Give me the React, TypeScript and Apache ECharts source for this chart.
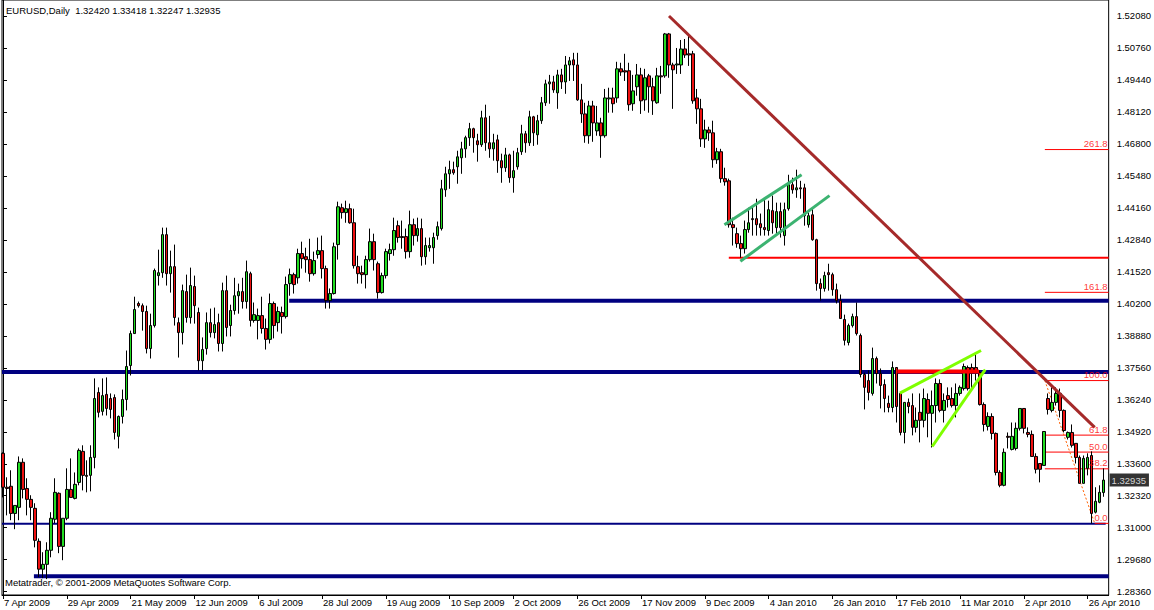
import React, { useEffect, useRef } from "react";
import * as echarts from "echarts";

// Daily EURUSD candles, each [open, close, low, high]
const candles: number[][] = [
  [1.3404,1.3264,1.3222,1.3408],[1.3264,1.3259,1.3148,1.3305],[1.3268,1.3156,1.3128,1.3334],[1.3156,1.3189,1.3091,1.3189],
  [1.3181,1.3367,1.3128,1.3391],[1.3367,1.3255,1.3218,1.3383],[1.3259,1.3214,1.3148,1.3301],[1.3214,1.3181,1.3128,1.3231],
  [1.3177,1.3045,1.3016,1.3198],[1.3041,1.2926,1.2893,1.3053],[1.2926,1.2946,1.2889,1.2996],[1.2946,1.3004,1.2885,1.3037],
  [1.3004,1.3136,1.2975,1.3161],[1.3132,1.3243,1.3115,1.3301],[1.3239,1.3020,1.2992,1.3243],[1.3020,1.3136,1.2963,1.3136],
  [1.3136,1.3255,1.3128,1.3342],[1.3255,1.3222,1.3222,1.3383],[1.3218,1.3276,1.3214,1.3325],[1.3284,1.3416,1.3272,1.3424],
  [1.3412,1.3313,1.3251,1.3437],[1.3313,1.3309,1.3243,1.3375],[1.3313,1.3387,1.3247,1.3437],[1.3387,1.3630,1.3342,1.3713],
  [1.3655,1.3573,1.3552,1.3676],[1.3577,1.3642,1.3560,1.3713],[1.3647,1.3589,1.3560,1.3717],[1.3630,1.3585,1.3548,1.3651],
  [1.3634,1.3490,1.3461,1.3647],[1.3474,1.3556,1.3424,1.3560],[1.3556,1.3626,1.3527,1.3667],[1.3626,1.3762,1.3581,1.3828],
  [1.3766,1.3898,1.3725,1.3910],[1.3898,1.3997,1.3898,1.4050],[1.4022,1.4013,1.4005,1.4030],[1.4013,1.3989,1.3910,1.4022],
  [1.3989,1.3836,1.3816,1.4013],[1.3836,1.3931,1.3795,1.3980],[1.3931,1.4158,1.3923,1.4166],[1.4137,1.4149,1.4096,1.4244],
  [1.4149,1.4306,1.4128,1.4335],[1.4306,1.4145,1.4096,1.4335],[1.4145,1.4174,1.4067,1.4240],[1.4174,1.3964,1.3931,1.4265],
  [1.3943,1.3902,1.3799,1.3964],[1.3902,1.4075,1.3853,1.4100],[1.4071,1.3964,1.3943,1.4141],[1.3964,1.4096,1.3939,1.4170],
  [1.4092,1.4013,1.3939,1.4137],[1.3985,1.3786,1.3746,1.4005],[1.3786,1.3832,1.3746,1.3882],[1.3836,1.3943,1.3811,1.3985],
  [1.3943,1.3902,1.3882,1.4001],[1.3902,1.3935,1.3878,1.4005],[1.3943,1.3857,1.3824,1.3980],[1.3857,1.4075,1.3824,1.4108],
  [1.4075,1.3923,1.3886,1.4137],[1.3931,1.3993,1.3886,1.4017],[1.3993,1.4054,1.3976,1.4128],[1.4054,1.4071,1.3980,1.4104],
  [1.4071,1.4030,1.4001,1.4128],[1.4030,1.4153,1.4001,1.4199],[1.4145,1.3952,1.3927,1.4153],[1.3952,1.3976,1.3943,1.4026],
  [1.3952,1.3972,1.3874,1.4001],[1.3972,1.3919,1.3898,1.4050],[1.3919,1.3874,1.3832,1.3960],[1.3874,1.4022,1.3857,1.4063],
  [1.4022,1.3931,1.3878,1.4030],[1.3943,1.3989,1.3906,1.4009],[1.3985,1.3968,1.3898,1.4009],[1.3968,1.4100,1.3960,1.4133],
  [1.4104,1.4141,1.4054,1.4166],[1.4141,1.4100,1.4063,1.4149],[1.4128,1.4228,1.4104,1.4248],[1.4228,1.4207,1.4166,1.4277],
  [1.4215,1.4203,1.4149,1.4252],[1.4203,1.4145,1.4112,1.4289],[1.4145,1.4199,1.4137,1.4236],[1.4224,1.4240,1.4207,1.4294],
  [1.4240,1.4166,1.4125,1.4302],[1.4166,1.4034,1.4001,1.4178],[1.4034,1.4063,1.4001,1.4084],[1.4063,1.4256,1.4059,1.4273],
  [1.4265,1.4421,1.4203,1.4442],[1.4417,1.4397,1.4372,1.4434],[1.4397,1.4413,1.4355,1.4446],[1.4413,1.4355,1.4351,1.4434],
  [1.4355,1.4178,1.4166,1.4413],[1.4174,1.4145,1.4104,1.4219],[1.4149,1.4141,1.4104,1.4178],[1.4141,1.4203,1.4084,1.4219],
  [1.4203,1.4277,1.4195,1.4331],[1.4277,1.4203,1.4158,1.4310],[1.4186,1.4067,1.4042,1.4195],[1.4067,1.4137,1.4063,1.4149],
  [1.4137,1.4236,1.4125,1.4248],[1.4228,1.4244,1.4199,1.4269],[1.4244,1.4323,1.4219,1.4376],[1.4343,1.4294,1.4273,1.4364],
  [1.4298,1.4294,1.4248,1.4364],[1.4298,1.4236,1.4207,1.4331],[1.4236,1.4347,1.4211,1.4405],[1.4347,1.4302,1.4261,1.4372],
  [1.4302,1.4331,1.4277,1.4376],[1.4331,1.4215,1.4178,1.4372],[1.4215,1.4261,1.4182,1.4294],[1.4252,1.4261,1.4236,1.4294],
  [1.4252,1.4294,1.4186,1.4314],[1.4302,1.4339,1.4285,1.4360],[1.4331,1.4495,1.4323,1.4532],[1.4491,1.4557,1.4462,1.4586],
  [1.4557,1.4574,1.4495,1.4611],[1.4574,1.4561,1.4553,1.4607],[1.4586,1.4627,1.4516,1.4652],[1.4623,1.4660,1.4557,1.4689],
  [1.4660,1.4706,1.4623,1.4714],[1.4706,1.4743,1.4672,1.4767],[1.4743,1.4706,1.4644,1.4747],[1.4693,1.4677,1.4607,1.4722],
  [1.4677,1.4788,1.4668,1.4817],[1.4788,1.4685,1.4652,1.4842],[1.4685,1.4660,1.4623,1.4796],[1.4660,1.4685,1.4611,1.4722],
  [1.4697,1.4611,1.4561,1.4718],[1.4611,1.4582,1.4520,1.4640],[1.4582,1.4635,1.4565,1.4664],[1.4635,1.4541,1.4520,1.4640],
  [1.4541,1.4570,1.4479,1.4652],[1.4586,1.4644,1.4574,1.4664],[1.4648,1.4722,1.4635,1.4759],[1.4722,1.4685,1.4644,1.4734],
  [1.4685,1.4792,1.4672,1.4817],[1.4792,1.4726,1.4672,1.4796],[1.4718,1.4776,1.4677,1.4800],[1.4776,1.4850,1.4763,1.4874],
  [1.4850,1.4928,1.4837,1.4945],[1.4928,1.4936,1.4846,1.4965],[1.4936,1.4903,1.4891,1.4961],[1.4891,1.4965,1.4825,1.4986],
  [1.4965,1.4936,1.4907,1.4990],[1.4936,1.5006,1.4887,1.5043],[1.5006,1.5023,1.4940,1.5039],[1.5027,1.5006,1.4940,1.5056],
  [1.5006,1.4862,1.4858,1.5056],[1.4862,1.4804,1.4767,1.4928],[1.4804,1.4714,1.4685,1.4850],[1.4714,1.4837,1.4681,1.4858],
  [1.4837,1.4767,1.4689,1.4858],[1.4734,1.4767,1.4714,1.4837],[1.4767,1.4714,1.4623,1.4788],[1.4714,1.4870,1.4706,1.4907],
  [1.4866,1.4870,1.4809,1.4912],[1.4870,1.4846,1.4809,1.4912],[1.4870,1.4990,1.4850,1.5019],[1.4990,1.4977,1.4961,1.5015],
  [1.4982,1.4977,1.4940,1.5052],[1.4982,1.4842,1.4817,1.5015],[1.4846,1.4899,1.4817,1.4965],[1.4916,1.4965,1.4879,1.5010],
  [1.4965,1.4858,1.4804,1.4994],[1.4862,1.4953,1.4817,1.4990],[1.4961,1.4916,1.4809,1.4969],[1.4916,1.4858,1.4800,1.4953],
  [1.4850,1.4961,1.4846,1.4994],[1.4961,1.4957,1.4887,1.5002],[1.4961,1.5134,1.4953,1.5138],[1.5134,1.5006,1.4953,1.5138],
  [1.5006,1.4986,1.4825,1.5015],[1.5006,1.5010,1.4969,1.5076],[1.5006,1.5072,1.4969,1.5109],[1.5072,1.5047,1.5035,1.5113],
  [1.5052,1.5047,1.5002,1.5134],[1.5052,1.4858,1.4846,1.5064],[1.4870,1.4825,1.4763,1.4907],[1.4825,1.4701,1.4668,1.4866],
  [1.4701,1.4738,1.4664,1.4780],[1.4738,1.4726,1.4693,1.4751],[1.4726,1.4615,1.4582,1.4776],[1.4615,1.4648,1.4598,1.4664],
  [1.4648,1.4537,1.4520,1.4660],[1.4537,1.4524,1.4508,1.4582],[1.4528,1.4347,1.4335,1.4537],[1.4347,1.4335,1.4261,1.4376],
  [1.4310,1.4269,1.4252,1.4335],[1.4269,1.4248,1.4211,1.4302],[1.4248,1.4327,1.4228,1.4364],[1.4327,1.4355,1.4314,1.4417],
  [1.4372,1.4368,1.4302,1.4417],[1.4372,1.4347,1.4302,1.4454],[1.4351,1.4335,1.4302,1.4393],[1.4335,1.4327,1.4302,1.4454],
  [1.4323,1.4409,1.4302,1.4446],[1.4405,1.4355,1.4310,1.4467],[1.4335,1.4401,1.4310,1.4438],[1.4401,1.4335,1.4294,1.4438],
  [1.4302,1.4409,1.4261,1.4438],[1.4413,1.4512,1.4405,1.4553],[1.4512,1.4491,1.4475,1.4541],[1.4491,1.4499,1.4458,1.4574],
  [1.4499,1.4495,1.4454,1.4528],[1.4499,1.4384,1.4343,1.4516],[1.4347,1.4384,1.4335,1.4397],[1.4388,1.4285,1.4281,1.4413],
  [1.4285,1.4104,1.4075,1.4289],[1.4104,1.4084,1.4034,1.4125],[1.4084,1.4137,1.4071,1.4153],[1.4149,1.4141,1.4075,1.4186],
  [1.4141,1.4079,1.4054,1.4149],[1.4079,1.4034,1.4022,1.4104],[1.4034,1.3960,1.3960,1.4059],[1.3956,1.3870,1.3849,1.3976],
  [1.3861,1.3931,1.3849,1.3939],[1.3931,1.3968,1.3923,1.3980],[1.3968,1.3898,1.3890,1.4026],[1.3890,1.3729,1.3717,1.3898],
  [1.3729,1.3676,1.3585,1.3737],[1.3704,1.3655,1.3622,1.3746],[1.3651,1.3795,1.3642,1.3840],[1.3795,1.3733,1.3692,1.3803],
  [1.3733,1.3684,1.3589,1.3754],[1.3688,1.3630,1.3573,1.3709],[1.3610,1.3593,1.3573,1.3642],[1.3593,1.3758,1.3573,1.3783],
  [1.3758,1.3597,1.3531,1.3758],[1.3651,1.3490,1.3478,1.3655],[1.3490,1.3614,1.3445,1.3614],[1.3614,1.3597,1.3569,1.3630],
  [1.3601,1.3511,1.3478,1.3651],[1.3511,1.3540,1.3490,1.3593],[1.3573,1.3540,1.3449,1.3651],[1.3540,1.3630,1.3511,1.3671],
  [1.3626,1.3569,1.3470,1.3651],[1.3569,1.3601,1.3428,1.3663],[1.3601,1.3692,1.3531,1.3713],[1.3692,1.3581,1.3573,1.3709],
  [1.3581,1.3622,1.3531,1.3651],[1.3642,1.3626,1.3593,1.3676],[1.3630,1.3601,1.3593,1.3676],[1.3601,1.3651,1.3552,1.3692],
  [1.3651,1.3676,1.3642,1.3684],[1.3671,1.3762,1.3663,1.3774],[1.3758,1.3671,1.3663,1.3766],[1.3758,1.3737,1.3671,1.3774],
  [1.3758,1.3737,1.3704,1.3816],[1.3737,1.3605,1.3601,1.3746],[1.3605,1.3523,1.3494,1.3614],[1.3515,1.3556,1.3498,1.3573],
  [1.3556,1.3486,1.3461,1.3569],[1.3486,1.3325,1.3313,1.3490],[1.3325,1.3272,1.3264,1.3334],[1.3272,1.3408,1.3268,1.3424],
  [1.3474,1.3470,1.3424,1.3490],[1.3420,1.3474,1.3416,1.3531],[1.3424,1.3507,1.3416,1.3531],[1.3507,1.3589,1.3498,1.3589],
  [1.3589,1.3507,1.3486,1.3589],[1.3490,1.3482,1.3470,1.3511],[1.3482,1.3391,1.3391,1.3498],[1.3391,1.3338,1.3321,1.3404],
  [1.3362,1.3338,1.3284,1.3362],[1.3354,1.3494,1.3354,1.3494],[1.3630,1.3585,1.3564,1.3651],[1.3581,1.3614,1.3573,1.3676],
  [1.3614,1.3651,1.3601,1.3676],[1.3651,1.3581,1.3552,1.3671],[1.3581,1.3498,1.3490,1.3585],[1.3470,1.3490,1.3461,1.3494],
  [1.3490,1.3437,1.3428,1.3523],[1.3445,1.3387,1.3362,1.3445],[1.3387,1.3280,1.3280,1.3395],[1.3280,1.3383,1.3280,1.3395],
  [1.3342,1.3387,1.3313,1.3404],[1.3395,1.3156,1.3114,1.3412],[1.3161,1.3206,1.3156,1.3264],[1.3202,1.3243,1.3198,1.3272],
  [1.32420,1.32935,1.32247,1.33418],
];

// Date labels, one every 16 bars
const xTickIndex = [0,16,32,48,64,80,96,112,128,144,160,176,192,208,224,240,256,272];
const xTickLabels = [
  "7 Apr 2009","29 Apr 2009","21 May 2009","12 Jun 2009","6 Jul 2009","28 Jul 2009",
  "19 Aug 2009","10 Sep 2009","2 Oct 2009","26 Oct 2009","17 Nov 2009","9 Dec 2009",
  "4 Jan 2010","26 Jan 2010","17 Feb 2010","11 Mar 2010","2 Apr 2010","26 Apr 2010",
];
const yTicks = [
  1.5208,1.5076,1.4944,1.4812,1.468,1.4548,1.4416,1.4284,1.4152,1.402,
  1.3888,1.3756,1.3624,1.3492,1.336,1.3232,1.31,1.2968,1.2836,
];

// Drawn objects: [barIndexStart, price, barIndexEnd]
const navyThickLines = [[71.75, 1.4033, 277.25], [-0.25, 1.3739, 277.25], [7.75, 1.2897, 277.25]];
const navyThinLines = [[-0.25, 1.3113, 276.5]];
const redLines = [[182, 1.4211, 277.25]];
const redThickLines = [[224.25, 1.3741, 244.75]];
// Trend lines: [[bar, price], [bar, price]]
const downTrend = [[167, 1.5208], [273.75, 1.3511]];
const channelUpper = [[180.9, 1.4347], [200.25, 1.4553]];
const channelLower = [[184.9, 1.4196], [207.25, 1.4467]];
const wedgeUpper = [[224.9, 1.3652], [245.25, 1.3828]];
const wedgeLower = [[233, 1.3432], [246.3, 1.3749]];
const fibBase = [[261.25, 1.3704], [273.75, 1.3115]];
// Fibonacci levels
const fibLabels = ["261.8", "161.8", "100.0", "61.8", "50.0", "38.2", "0.0"];
const fibPrices = [1.4657, 1.4068, 1.3704, 1.3479, 1.3409, 1.3340, 1.3115];
const fibStarts = [261.25, 261.25, 261.25, 261.25, 261.25, 261.25, 273.75];

const FONT = "'Liberation Sans', Arial, sans-serif";
const X_MIN = -0.25;
const X_MAX = 277.25;

function seg(pts: number[][], color: string, width: number, type: any = "solid", z = 2) {
  return {
    type: "line",
    data: pts,
    symbol: "none",
    silent: true,
    animation: false,
    z,
    lineStyle: { color, width, type },
  };
}

export default function App() {
  const ref = useRef<HTMLDivElement>(null);
  useEffect(() => {
    document.body.style.margin = "0";
    const chart = echarts.init(ref.current as HTMLDivElement, undefined, { renderer: "svg" });
    const last = candles[candles.length - 1];
    const f5 = (v: number) => v.toFixed(5);
    const series: any[] = [];
    navyThickLines.forEach((l) => series.push(seg([[l[0], l[1]], [l[2], l[1]]], "#000080", 4)));
    navyThinLines.forEach((l) => series.push(seg([[l[0], l[1]], [l[2], l[1]]], "#000080", 2)));
    redLines.forEach((l) => series.push(seg([[l[0], l[1]], [l[2], l[1]]], "#ff0000", 2)));
    fibPrices.forEach((p, i) => series.push(seg([[fibStarts[i], p], [X_MAX, p]], "#ff0000", 1, "solid", 3)));
    series.push(seg(fibBase, "#ff6000", 1, [2, 2], 3));
    series.push({
      type: "candlestick",
      data: candles.map((c, i) => [i, c[0], c[1], c[2], c[3]]),
      barWidth: 3,
      z: 4,
      silent: true,
      animation: false,
      itemStyle: {
        color: "#22dd22",
        color0: "#ee1111",
        borderColor: "#000",
        borderColor0: "#000",
        borderColorDoji: "#000",
        borderWidth: 1,
      },
    });
    redThickLines.forEach((l) => series.push(seg([[l[0], l[1]], [l[2], l[1]]], "#ff0000", 4, "solid", 5)));
    series.push(seg(downTrend, "#a52a2a", 3, "solid", 6));
    series.push(seg(channelUpper, "#3cb371", 3, "solid", 6));
    series.push(seg(channelLower, "#3cb371", 3, "solid", 6));
    series.push(seg(wedgeUpper, "#7fff00", 3, "solid", 6));
    series.push(seg(wedgeLower, "#7fff00", 3, "solid", 6));
    series.push({
      type: "scatter",
      silent: true,
      animation: false,
      clip: false,
      z: 7,
      symbolSize: 0.1,
      itemStyle: { color: "rgba(0,0,0,0)" },
      data: fibPrices.map((p, i) => [277.0, p, fibLabels[i]]),
      label: {
        show: true,
        position: [0, -1],
        align: "right",
        verticalAlign: "bottom",
        formatter: (p: any) => p.value[2],
        color: "#ff0000",
        fontSize: 9.5,
        fontFamily: FONT,
      },
    });
    series.push({
      type: "scatter",
      silent: true,
      animation: false,
      clip: false,
      z: 8,
      symbolSize: 0.1,
      itemStyle: { color: "rgba(0,0,0,0)" },
      data: [[X_MAX, last[1]]],
      label: {
        show: true,
        position: [1, 0],
        align: "left",
        verticalAlign: "middle",
        formatter: () => f5(last[1]),
        color: "#fff",
        backgroundColor: "#000",
        padding: [2, 3, 1, 2],
        fontSize: 9.5,
        fontFamily: FONT,
      },
    });

    chart.setOption({
      animation: false,
      backgroundColor: "#fff",
      title: [
        {
          text: `EURUSD,Daily  ${f5(last[0])} ${f5(last[3])} ${f5(last[2])} ${f5(last[1])}`,
          left: 6,
          top: 5,
          padding: 0,
          textStyle: { fontSize: 9.5, fontWeight: "normal", color: "#000", fontFamily: FONT },
        },
        {
          text: "Metatrader, © 2001-2009 MetaQuotes Software Corp.",
          left: 5,
          top: 577,
          padding: 0,
          textStyle: { fontSize: 9.5, fontWeight: "normal", color: "#000", fontFamily: FONT },
        },
      ],
      grid: {
        left: 2,
        right: 42,
        top: -1,
        bottom: 15,
        show: true,
        borderColor: "#000",
        borderWidth: 1,
        backgroundColor: "#fff",
      },
      xAxis: {
        type: "value",
        min: X_MIN,
        max: X_MAX,
        axisLine: { show: true, lineStyle: { color: "#000", width: 1 } },
        splitLine: { show: false },
        axisTick: { show: true, customValues: xTickIndex, length: 4, lineStyle: { color: "#000" } },
        axisLabel: {
          customValues: xTickIndex,
          formatter: (v: number) => xTickLabels[xTickIndex.indexOf(Math.round(v))] ?? "",
          align: "left",
          margin: 2,
          padding: [0, 0, 0, 1],
          fontSize: 9.5,
          color: "#000",
          fontFamily: FONT,
        },
      },
      yAxis: {
        type: "value",
        position: "right",
        min: 1.28195,
        max: 1.52739,
        axisLine: { show: true, lineStyle: { color: "#000", width: 1 } },
        splitLine: { show: false },
        axisTick: { show: true, customValues: yTicks, length: 4, lineStyle: { color: "#000" } },
        axisLabel: {
          customValues: yTicks,
          formatter: (v: number) => v.toFixed(5),
          margin: 8,
          fontSize: 9.5,
          color: "#000",
          fontFamily: FONT,
        },
      },
      series,
    });
    return () => chart.dispose();
  }, []);
  return (
    <div
      ref={ref}
      style={{ position: "absolute", left: 0, top: 0, width: 1154, height: 610, background: "#fff" }}
    />
  );
}
